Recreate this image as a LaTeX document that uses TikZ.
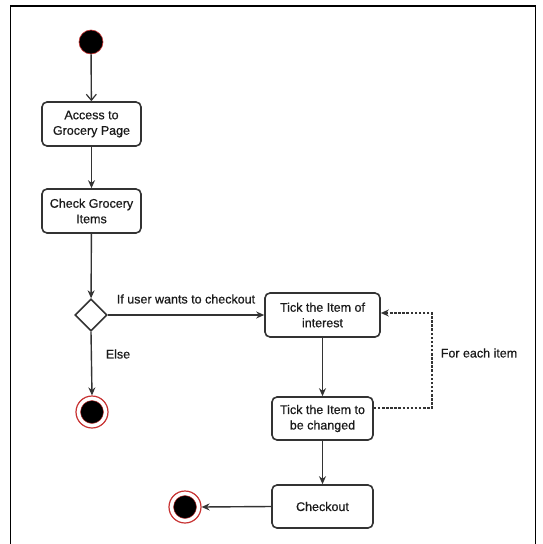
\documentclass[tikz,border=0pt]{standalone}
\usepackage{fontspec}
\setmainfont{Liberation Sans}[FakeBold=0.6]
\usetikzlibrary{arrows.meta,shapes.geometric}
\definecolor{ln}{HTML}{333333}
\definecolor{rd}{HTML}{C83232}
\definecolor{tx}{HTML}{1A1A1A}
\begin{document}
\begin{tikzpicture}[x=1pt,y=-1pt,
  actbox/.style={draw=ln,line width=1.6pt,rounded corners=5pt,fill=white,align=center,
    text=tx,font=\fontsize{12.5}{15.5}\selectfont,inner sep=0pt},
  flow/.style={draw=ln,line width=1.4pt,-{Stealth[length=8pt,width=7pt]}},
  openflow/.style={draw=ln,line width=1.4pt,-{Straight Barb[length=6pt,width=10pt,line width=1.2pt]}},
  lbl/.style={text=tx,font=\fontsize{12.5}{15}\selectfont,inner sep=0pt},
  startnode/.style={circle,fill=black,draw=rd,line width=0.6pt,minimum size=24pt,inner sep=0pt},
  endnode/.style={circle,fill=white,draw=rd,line width=1.2pt,minimum size=32pt,inner sep=0pt}
]
\useasboundingbox (0,0) rectangle (543,544);
\clip (0,0) rectangle (543,544);
\fill[white] (0,0) rectangle (543,544);
\draw[line width=1.2pt,black] (10.5,560) -- (10.5,6) -- (535.5,6) -- (535.5,560);

\node[startnode] (start) at (91,42) {};
\node[actbox,minimum width=99pt,minimum height=44pt] (access) at (91.5,124) {Access to\\Grocery Page};
\node[actbox,minimum width=99pt,minimum height=44pt] (check) at (91.5,211) {Check Grocery\\Items};
\node[diamond,draw=ln,line width=1.6pt,fill=white,minimum width=32pt,minimum height=32pt,inner sep=0pt,aspect=1] (dec) at (91,315) {};
\node[actbox,minimum width=115pt,minimum height=44pt] (tick1) at (322.5,315) {Tick the Item of\\interest};
\node[actbox,minimum width=101pt,minimum height=43pt] (tick2) at (322.5,418.5) {Tick the Item to\\be changed};
\node[actbox,minimum width=101pt,minimum height=43pt] (chk) at (322.5,506.5) {Checkout};

\node[endnode] (end1) at (92,412) {};
\fill[black,draw=rd,line width=0.4pt] (end1.center) circle (11.5pt);
\node[endnode] (end2) at (185,507) {};
\fill[black,draw=rd,line width=0.4pt] (end2.center) circle (11.5pt);

\draw[openflow] (start) -- (access);
\draw[flow] (access) -- (check);
\draw[flow] (check) -- (dec);
\draw[flow] (dec.east) -- (tick1.west);
\draw[flow] (dec.south) -- (end1.north);
\draw[flow] (tick1) -- (tick2);
\draw[flow] (tick2) -- (chk);
\draw[flow] (chk.west) -- (end2.east);

\coordinate (d1) at (432,408);
\coordinate (d2) at (432,313);
\draw[ln,line width=1.4pt,dash pattern=on 2.5pt off 1.6pt,-{Stealth[length=8pt,width=7pt]}]
  (tick2.east |- d1) -- (d1) -- (d2) -- (tick1.east |- d2);

\node[lbl] (lcheck) at (186,299) {If user wants to checkout};
\node[lbl] (lelse) at (118,354) {Else};
\node[lbl] (leach) at (479,353) {For each item};
\end{tikzpicture}
\end{document}
